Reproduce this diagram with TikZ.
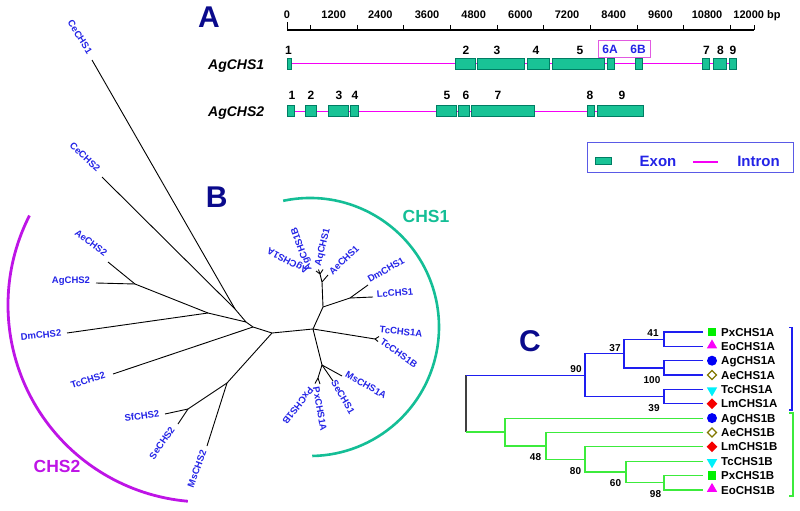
\documentclass[tikz,border=0pt]{standalone}
\usepackage{fontspec}
\setmainfont{Liberation Sans}
\usetikzlibrary{positioning, shapes.geometric}

\definecolor{panelnavy}{RGB}{10,10,140}
\definecolor{labblue}{RGB}{35,35,230}
\definecolor{exonfill}{RGB}{25,195,150}
\definecolor{exonedge}{RGB}{0,125,100}
\definecolor{intronpink}{RGB}{245,0,245}
\definecolor{boxpink}{RGB}{225,90,225}
\definecolor{legendblue}{RGB}{90,90,230}
\definecolor{chsteal}{RGB}{20,190,150}
\definecolor{chspurple}{RGB}{190,20,230}
\definecolor{treeblue}{RGB}{30,30,240}
\definecolor{treegreen}{RGB}{60,235,60}
\definecolor{markolive}{RGB}{130,120,0}
\definecolor{markgreen}{RGB}{0,240,0}
\definecolor{markmagenta}{RGB}{250,0,250}
\definecolor{markblue}{RGB}{0,0,245}
\definecolor{markcyan}{RGB}{0,240,250}
\definecolor{markred}{RGB}{245,0,0}

\begin{document}
\begin{tikzpicture}[
    x=1pt, y=-1pt,
    panellab/.style={font=\fontsize{30}{30}\selectfont\bfseries, text=panelnavy, inner sep=0pt},
    genelab/.style={font=\fontsize{14}{14}\selectfont\bfseries\itshape, anchor=base west, inner sep=0pt},
    exonnum/.style={font=\fontsize{12}{12}\selectfont\bfseries, inner sep=0pt},
    rulerlab/.style={font=\fontsize{11}{11}\selectfont\bfseries, anchor=base, inner sep=0pt},
    exonbox/.style={draw=exonedge, fill=exonfill, line width=0.6pt},
    intronline/.style={draw=intronpink, line width=1.3pt},
    legendlab/.style={font=\fontsize{15}{15}\selectfont\bfseries, text=labblue, inner sep=0pt},
    treeline/.style={line width=0.9pt, line join=round},
    leaflab/.style={text=labblue, font=\fontsize{9.5}{10}\selectfont\bfseries, inner sep=0pt},
    cladelab/.style={font=\fontsize{17.5}{18}\selectfont\bfseries, inner sep=0pt},
    cladetree/.style={line width=1.2pt},
    bootlab/.style={font=\fontsize{10}{10}\selectfont\bfseries, inner sep=0pt},
    taxon/.style={font=\fontsize{11.5}{12}\selectfont\bfseries, anchor=base west, inner sep=0pt},
    symsq/.style={fill=#1, minimum size=8.5pt, inner sep=0pt},
    symtri/.style={regular polygon, regular polygon sides=3, fill=#1, minimum size=12pt, inner sep=0pt, yshift=1pt},
    symvtri/.style={regular polygon, regular polygon sides=3, shape border rotate=180, fill=#1, minimum size=12pt, inner sep=0pt, yshift=-1pt},
    symdot/.style={circle, fill=#1, minimum size=10pt, inner sep=0pt},
    symdia/.style={diamond, fill=#1, minimum size=11pt, inner sep=0pt},
    symopen/.style={diamond, draw=#1, fill=white, line width=1.2pt, minimum size=9.5pt, inner sep=0pt}
  ]
  \useasboundingbox (0,0) rectangle (800,511);

  % Panel A: scale bar
  \node[panellab] (labA) at (209,17.5) {A};
  \coordinate (rulerStart) at (287,30);
  \coordinate (rulerEnd) at (754,30);
  \draw[line width=1.3pt] (rulerStart) -- (rulerEnd);
  \draw[line width=1pt] (rulerStart) -- ++(0,-8);
  \draw[line width=1pt] (rulerEnd) -- ++(0,-5);
  \foreach \k in {0,...,9}
    \draw[line width=0.9pt] ({310.33+46.667*\k},25) -- ({310.33+46.667*\k},30);
  \foreach \v in {0,1200,...,10800}
    \node[rulerlab] (scale\v) at ({287+0.038889*\v},18.5) {\v};
  \node[rulerlab] (scale12000) at (757,18.5) {12000 bp};

  % Panel A: AgCHS1
  \node[genelab] (geneOne) at (208,70) {AgCHS1};
  \coordinate (oneStart) at (287,63.5);
  \coordinate (oneEnd) at (736,63.5);
  \draw[intronline] (oneStart) -- (oneEnd);
  \foreach \a/\b in {287/291, 455/475, 477/524, 527/549, 552/604, 607/614, 635/642, 702/709, 713/726, 729/736}
    \draw[exonbox] (\a,58.3) rectangle (\b,69.3);
  \foreach \n/\x in {1/288.5, 2/466, 3/497, 4/536, 5/580, 7/706.5, 8/720.5, 9/733}
    \node[exonnum] (one\n) at (\x,50.5) {\n};
  \node[draw=boxpink, line width=0.8pt, minimum width=52pt, minimum height=16.5pt, inner sep=0pt] (splitBox) at (624,49) {};
  \node[exonnum, text=labblue] (oneSixA) at (610,49.5) {6A};
  \node[exonnum, text=labblue] (oneSixB) at (638,49.5) {6B};

  % Panel A: AgCHS2
  \node[genelab] (geneTwo) at (208,116.5) {AgCHS2};
  \coordinate (twoStart) at (287,111.7);
  \coordinate (twoEnd) at (643,111.7);
  \draw[intronline] (twoStart) -- (twoEnd);
  \foreach \a/\b in {287/294, 305/316, 328/348, 350/358, 436/456, 458/469, 471/534, 587/594, 597/643}
    \draw[exonbox] (\a,105.7) rectangle (\b,116.7);
  \foreach \n/\x in {1/292, 2/311, 3/339, 4/355, 5/447, 6/466, 7/498, 8/590, 9/622}
    \node[exonnum] (two\n) at (\x,95) {\n};

  % Legend
  \node[draw=legendblue, line width=0.8pt, minimum width=206pt, minimum height=30pt, inner sep=0pt] (legend) at (690,157.3) {};
  \draw[exonbox] (595,157.7) rectangle (611.7,164.3);
  \node[legendlab] (legExon) at (658,161) {Exon};
  \coordinate (legLineA) at (693,162);
  \coordinate (legLineB) at (718,162);
  \draw[intronline] (legLineA) -- (legLineB);
  \node[legendlab] (legIntron) at (758.5,161) {Intron};

  % Panel B: unrooted tree
  \node[panellab] (labB) at (216.7,197.5) {B};
  \coordinate (tCeOne) at (92,60);
  \coordinate (tCeTwo) at (102,177);
  \coordinate (tAeTwo) at (108,262);
  \coordinate (tAgTwo) at (96,283);
  \coordinate (tDmTwo) at (67,333);
  \coordinate (tTcTwo) at (113,374);
  \coordinate (tSfTwo) at (165,414);
  \coordinate (tSeTwo) at (178,424);
  \coordinate (tMsTwo) at (207,446);
  \coordinate (nCe) at (235,309);
  \coordinate (nUp) at (246,322);
  \coordinate (nAgAe) at (135,284);
  \coordinate (nDm) at (208,313);
  \coordinate (nTc) at (253,327);
  \coordinate (nCenter) at (272,333);
  \coordinate (nMs) at (227,383);
  \coordinate (nSfSe) at (188,409);
  \coordinate (nOne) at (313,329);
  \coordinate (nTcOne) at (375,339);
  \coordinate (tTcA) at (379,336.5);
  \coordinate (tTcB) at (378,341.5);
  \coordinate (nLep) at (322,365);
  \coordinate (tMsOne) at (342,376);
  \coordinate (tSeOne) at (333,381);
  \coordinate (nPx) at (318,378);
  \coordinate (tPxA) at (320,384);
  \coordinate (tPxB) at (315,383.5);
  \coordinate (nDip) at (323,307);
  \coordinate (nDmLc) at (350,298);
  \coordinate (tDmOne) at (368,285);
  \coordinate (tLcOne) at (373,297);
  \coordinate (nMos) at (322,282);
  \coordinate (tAeOne) at (328,275);
  \coordinate (nAg) at (320,274);
  \coordinate (tAgA) at (316,271);
  \coordinate (tAgB) at (318.5,269.5);
  \coordinate (tAq) at (323,269.5);

  \draw[treeline] (tCeOne) -- (nCe);
  \draw[treeline] (tCeTwo) -- (nCe) -- (nUp) -- (nTc) -- (nCenter) -- (nOne);
  \draw[treeline] (tAeTwo) -- (nAgAe) -- (nDm) -- (nUp);
  \draw[treeline] (tAgTwo) -- (nAgAe);
  \draw[treeline] (tDmTwo) -- (nDm);
  \draw[treeline] (tTcTwo) -- (nTc);
  \draw[treeline] (nCenter) -- (nMs) -- (tMsTwo);
  \draw[treeline] (nMs) -- (nSfSe) -- (tSfTwo);
  \draw[treeline] (nSfSe) -- (tSeTwo);
  \draw[treeline] (nOne) -- (nTcOne) -- (tTcA);
  \draw[treeline] (nTcOne) -- (tTcB);
  \draw[treeline] (nOne) -- (nLep) -- (tMsOne);
  \draw[treeline] (nLep) -- (tSeOne);
  \draw[treeline] (nLep) -- (nPx) -- (tPxA);
  \draw[treeline] (nPx) -- (tPxB);
  \draw[treeline] (nOne) -- (nDip) -- (nDmLc) -- (tDmOne);
  \draw[treeline] (nDmLc) -- (tLcOne);
  \draw[treeline] (nDip) -- (nMos) -- (tAeOne);
  \draw[treeline] (nMos) -- (nAg) -- (tAgA);
  \draw[treeline] (nAg) -- (tAgB);
  \draw[treeline] (nAg) -- (tAq);

  % Panel B: leaf names
  \node[leaflab, rotate=-58] (lCeOne) at (80,37) {CeCHS1};
  \node[leaflab, rotate=-43] (lCeTwo) at (85,157) {CeCHS2};
  \node[leaflab, rotate=-37] (lAeTwo) at (91,243) {AeCHS2};
  \node[leaflab] (lAgTwo) at (71,281) {AgCHS2};
  \node[leaflab, rotate=6] (lDmTwo) at (41,335) {DmCHS2};
  \node[leaflab, rotate=18] (lTcTwo) at (88,380) {TcCHS2};
  \node[leaflab, rotate=8] (lSfTwo) at (142,416) {SfCHS2};
  \node[leaflab, rotate=55] (lSeTwo) at (162,443) {SeCHS2};
  \node[leaflab, rotate=70] (lMsTwo) at (197,469) {MsCHS2};
  \node[leaflab, rotate=152] (lAgA) at (288,260) {AgCHS1A};
  \node[leaflab, rotate=110] (lAgB) at (302,249) {AgCHS1B};
  \node[leaflab, rotate=76] (lAq) at (323,247) {AqCHS1};
  \node[leaflab, rotate=44] (lAeOne) at (344,260) {AeCHS1};
  \node[leaflab, rotate=30] (lDmOne) at (386,270) {DmCHS1};
  \node[leaflab, rotate=5] (lLcOne) at (395,293) {LcCHS1};
  \node[leaflab, rotate=-6] (lTcA) at (401,331.5) {TcCHS1A};
  \node[leaflab, rotate=-35] (lTcB) at (399,353.5) {TcCHS1B};
  \node[leaflab, rotate=-30] (lMsOne) at (366,385) {MsCHS1A};
  \node[leaflab, rotate=-60] (lSeOne) at (343,397) {SeCHS1};
  \node[leaflab, rotate=-80] (lPxA) at (320,409) {PxCHS1A};
  \node[leaflab, rotate=232] (lPxB) at (298,406) {PxCHS1B};

  % Panel B: clade arcs
  \path (310,327) ++(-102:129) coordinate (arcOne);
  \draw[chsteal, line width=2.6pt] (arcOne) arc[start angle=-102, end angle=89, radius=129];
  \node[cladelab, text=chsteal] (cladeOne) at (426,216) {CHS1};
  \path (205,305) ++(-153:197) coordinate (arcTwo);
  \draw[chspurple, line width=2.8pt] (arcTwo) arc[start angle=-153, end angle=-265, radius=197];
  \node[cladelab, text=chspurple] (cladeTwo) at (57,466) {CHS2};

  % Panel C: leaves
  \node[panellab] (labC) at (530,341) {C};
  \coordinate (cPxA) at (703,332);   \node[symsq=markgreen] (sPxA) at (712,332) {};      \node[taxon] (nmPxA) at (721,336.1) {PxCHS1A};
  \coordinate (cEoA) at (703,346.4); \node[symtri=markmagenta] (sEoA) at (712,346.4) {}; \node[taxon] (nmEoA) at (721,350.5) {EoCHS1A};
  \coordinate (cAgA) at (703,360.7); \node[symdot=markblue] (sAgA) at (712,360.7) {};    \node[taxon] (nmAgA) at (721,364.8) {AgCHS1A};
  \coordinate (cAeA) at (703,375);   \node[symopen=markolive] (sAeA) at (712,375) {};    \node[taxon] (nmAeA) at (721,379.1) {AeCHS1A};
  \coordinate (cTcA) at (703,389.4); \node[symvtri=markcyan] (sTcA) at (712,389.4) {};   \node[taxon] (nmTcA) at (721,393.5) {TcCHS1A};
  \coordinate (cLmA) at (703,403.8); \node[symdia=markred] (sLmA) at (712,403.8) {};     \node[taxon] (nmLmA) at (721,407.9) {LmCHS1A};
  \coordinate (cAgB) at (703,418.1); \node[symdot=markblue] (sAgB) at (712,418.1) {};    \node[taxon] (nmAgB) at (721,422.2) {AgCHS1B};
  \coordinate (cAeB) at (703,432.5); \node[symopen=markolive] (sAeB) at (712,432.5) {};  \node[taxon] (nmAeB) at (721,436.6) {AeCHS1B};
  \coordinate (cLmB) at (703,446.8); \node[symdia=markred] (sLmB) at (712,446.8) {};     \node[taxon] (nmLmB) at (721,450.9) {LmCHS1B};
  \coordinate (cTcB) at (703,461.2); \node[symvtri=markcyan] (sTcB) at (712,461.2) {};   \node[taxon] (nmTcB) at (721,465.3) {TcCHS1B};
  \coordinate (cPxB) at (703,475.5); \node[symsq=markgreen] (sPxB) at (712,475.5) {};    \node[taxon] (nmPxB) at (721,479.6) {PxCHS1B};
  \coordinate (cEoB) at (703,489.9); \node[symtri=markmagenta] (sEoB) at (712,489.9) {}; \node[taxon] (nmEoB) at (721,494) {EoCHS1B};

  % Panel C: inner nodes
  \coordinate (rootA) at (466,375.1);
  \coordinate (rootB) at (466,432);
  \coordinate (n90) at (585,375.1);
  \coordinate (n37) at (624,353.5);
  \coordinate (n41) at (664,339.2);
  \coordinate (n100) at (664,367.9);
  \coordinate (n39) at (664,396.6);
  \coordinate (g1) at (505,432);
  \coordinate (g2) at (546,446);
  \coordinate (g3) at (585,459.4);
  \coordinate (g4) at (626,472);
  \coordinate (g5) at (664,482.7);

  \draw[cladetree, black!75] (rootA) -- (rootB);
  \draw[cladetree, treeblue] (rootA) -- (n90);
  \draw[cladetree, treeblue] (n37) -| (n90) |- (n39);
  \draw[cladetree, treeblue] (n41) -| (n37) |- (n100);
  \draw[cladetree, treeblue] (cPxA) -| (n41) |- (cEoA);
  \draw[cladetree, treeblue] (cAgA) -| (n100) |- (cAeA);
  \draw[cladetree, treeblue] (cTcA) -| (n39) |- (cLmA);
  \draw[cladetree, treegreen] (rootB) -- (g1);
  \draw[cladetree, treegreen] (cAgB) -| (g1) |- (g2);
  \draw[cladetree, treegreen] (cAeB) -| (g2) |- (g3);
  \draw[cladetree, treegreen] (cLmB) -| (g3) |- (g4);
  \draw[cladetree, treegreen] (cTcB) -| (g4) |- (g5);
  \draw[cladetree, treegreen] (cPxB) -| (g5) |- (cEoB);

  % Panel C: bootstrap values
  \node[bootlab] (b41) at (653,333) {41};
  \node[bootlab] (b37) at (615,348) {37};
  \node[bootlab] (b90) at (576,369) {90};
  \node[bootlab] (b100) at (652,380) {100};
  \node[bootlab] (b39) at (654,408.5) {39};
  \node[bootlab] (b48) at (535.5,457.5) {48};
  \node[bootlab] (b80) at (575.5,471) {80};
  \node[bootlab] (b60) at (615.5,483) {60};
  \node[bootlab] (b98) at (655.5,494) {98};

  % Panel C: brackets
  \coordinate (brAtop) at (789,327.3);
  \coordinate (brAbot) at (789,410);
  \draw[treeblue, line width=1.2pt] (brAtop) -- ++(3,0) |- (brAbot);
  \coordinate (brBtop) at (789,413);
  \coordinate (brBbot) at (789,496);
  \draw[treegreen, line width=1.2pt] (brBtop) -- ++(4,0) |- (brBbot);
\end{tikzpicture}
\end{document}
